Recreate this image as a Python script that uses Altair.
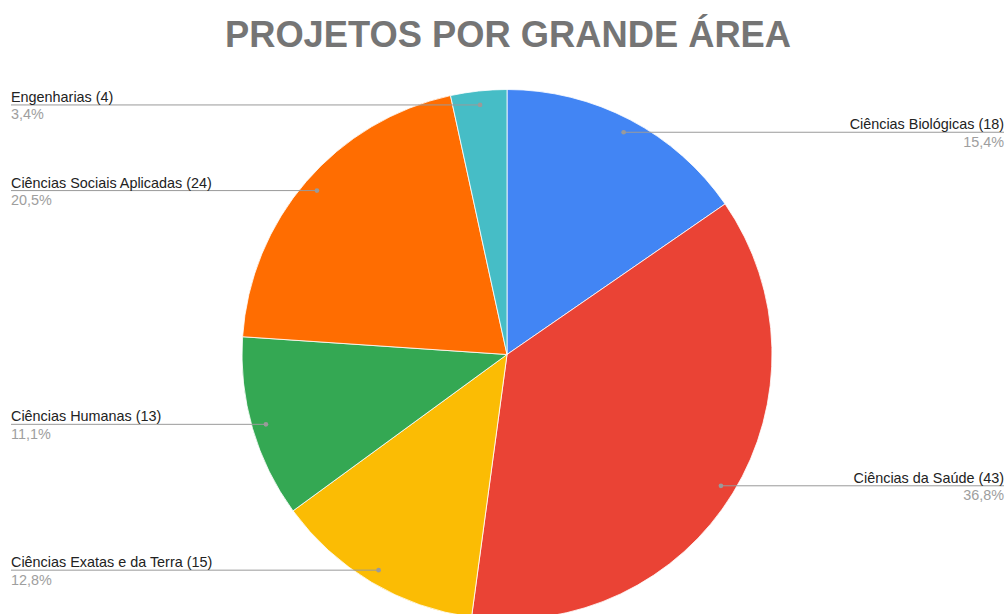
import altair as alt
import pandas as pd

title_text = "PROJETOS POR GRANDE ÁREA"
categories = [
    "Ciências Biológicas",
    "Ciências da Saúde",
    "Ciências Exatas e da Terra",
    "Ciências Humanas",
    "Ciências Sociais Aplicadas",
    "Engenharias",
]
values = [18, 43, 15, 13, 24, 4]
colors = ["#4285F4", "#EA4335", "#FBBC04", "#34A853", "#FF6D01", "#46BDC6"]

df = pd.DataFrame({"category": categories, "value": values, "idx": list(range(len(categories)))})

CX, CY, R, RDOT = 507, 354.5, 265, 251
FONT = "Liberation Sans"

base = alt.Chart(df)

pie = base.mark_arc(stroke="white", strokeWidth=0.8).encode(
    theta=alt.Theta("value:Q", stack=True),
    order=alt.Order("idx:Q"),
    color=alt.Color("category:N", scale=alt.Scale(domain=categories, range=colors), legend=None),
    x=alt.value(CX),
    y=alt.value(CY),
    radius=alt.value(R),
)

calc = (
    base.transform_window(cum="sum(value)", sort=[alt.SortField("idx")], frame=[None, 0])
    .transform_joinaggregate(total="sum(value)")
    .transform_calculate(
        mid="(datum.cum - datum.value/2) / datum.total * 2 * PI",
    )
    .transform_calculate(
        dotx=f"{CX} + {RDOT} * sin(datum.mid)",
        doty=f"{CY} - {RDOT} * cos(datum.mid)",
        side="sin(datum.mid) > 0 ? 'right' : 'left'",
        label="datum.category + ' (' + datum.value + ')'",
        pct="replace(format(datum.value / datum.total, '.1%'), '.', ',')",
    )
    .transform_calculate(
        linex="datum.side == 'right' ? 1004 : 11",
        ty="datum.doty - 3",
        py="datum.doty + 14.5",
    )
)

X = lambda f: alt.X(f, type="quantitative", scale=None, axis=None)
Y = lambda f: alt.Y(f, type="quantitative", scale=None, axis=None)

rules = calc.mark_rule(color="#9a9a9a", strokeWidth=1).encode(
    x=X("linex"), x2="dotx:Q", y=Y("doty")
)
dots = calc.mark_circle(color="#9a9a9a", opacity=1, size=22).encode(x=X("dotx"), y=Y("doty"))

def labels(side, align):
    d = calc.transform_filter(f"datum.side == '{side}'")
    t1 = d.mark_text(align=align, baseline="alphabetic", fontSize=14.4, font=FONT, color="#222222").encode(
        x=X("linex"), y=Y("ty"), text="label:N"
    )
    t2 = d.mark_text(align=align, baseline="alphabetic", fontSize=14.4, font=FONT, color="#9e9e9e").encode(
        x=X("linex"), y=Y("py"), text="pct:N"
    )
    return t1 + t2

title = alt.Chart(pd.DataFrame({"t": [title_text]})).mark_text(
    fontSize=36.3, fontWeight="bold", font=FONT, color="#757575", align="center", baseline="alphabetic"
).encode(x=alt.value(508), y=alt.value(47), text="t:N")

chart = (
    alt.layer(pie, rules, dots, labels("left", "left"), labels("right", "right"), title)
    .properties(width=1006, height=614, padding=0, autosize=alt.AutoSizeParams(type="none"))
    .configure_view(stroke=None)
)

chart.save("out.html", embed_options={"renderer": "svg", "actions": False})
